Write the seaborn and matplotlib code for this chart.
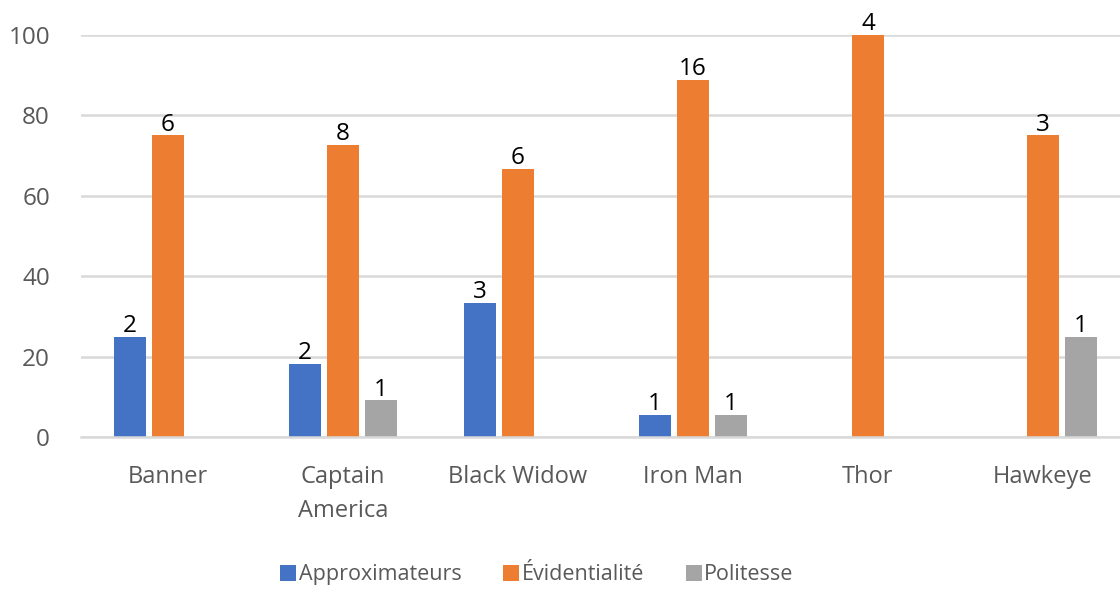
import matplotlib
matplotlib.use("Agg")
import matplotlib.pyplot as plt
import seaborn as sns
import pandas as pd
from matplotlib.lines import Line2D

categories = ["Banner", "Captain\nAmerica", "Black Widow", "Iron Man", "Thor", "Hawkeye"]
series = ["Approximateurs", "Évidentialité", "Politesse"]
approx_pct = [25.0, 18.18, 33.33, 5.56, 0.0, 0.0]
evid_pct = [75.0, 72.73, 66.67, 88.89, 100.0, 75.0]
polit_pct = [0.0, 9.09, 0.0, 5.56, 0.0, 25.0]
approx_cnt = [2, 2, 3, 1, 0, 0]
evid_cnt = [6, 8, 6, 16, 4, 3]
polit_cnt = [0, 1, 0, 1, 0, 1]
yticks = [0, 20, 40, 60, 80, 100]
colors = ["#4472C4", "#ED7D31", "#A5A5A5"]

sns.set_theme(style="white")
plt.rcParams["font.family"] = ["Open Sans", "DejaVu Sans"]

rows = []
for s, vals in zip(series, [approx_pct, evid_pct, polit_pct]):
    for c, v in zip(categories, vals):
        rows.append({"cat": c, "series": s, "value": v})
df = pd.DataFrame(rows)

fig = plt.figure(figsize=(11.2, 5.9), dpi=100)
ax = fig.add_axes([80.5 / 1120, (590 - 437) / 590, 1050 / 1120, 402 / 590])

sns.barplot(data=df, x="cat", y="value", hue="series", order=categories,
            hue_order=series, palette=colors, width=0.651, gap=0.18,
            linewidth=0, saturation=1, ax=ax, legend=False, errorbar=None)

for cont, cnts in zip(ax.containers, [approx_cnt, evid_cnt, polit_cnt]):
    labels = [str(c) if c > 0 else "" for c in cnts]
    ax.bar_label(cont, labels=labels, padding=-1, fontsize=17.5, color="#000000")

ax.set_ylim(0, 100)
ax.set_xlim(-0.5, len(categories) - 0.5)
ax.set_yticks(yticks)
ax.yaxis.grid(True, color="#D9D9D9", linewidth=1.8)
ax.set_axisbelow(True)
for side in ["top", "right", "left"]:
    ax.spines[side].set_visible(False)
ax.spines["bottom"].set_color("#D9D9D9")
ax.spines["bottom"].set_linewidth(1.8)
ax.tick_params(axis="y", length=0, pad=22, labelsize=17.5, labelcolor="#595959")
ax.tick_params(axis="x", length=0, pad=20, labelsize=17, labelcolor="#595959")
for lbl in ax.get_xticklabels():
    lbl.set_linespacing(1.55)
ax.set_xlabel("")
ax.set_ylabel("")

handles = [Line2D([], [], marker="s", linestyle="", markersize=11,
                  markerfacecolor=c, markeredgewidth=0) for c in colors]
fig.legend(handles, series, loc="center", bbox_to_anchor=(0.479, 0.026),
           ncol=3, frameon=False, fontsize=15.5, labelcolor="#595959",
           handletextpad=0.1, columnspacing=1.9, handlelength=0.8)

fig.savefig("out.png", dpi=100)
